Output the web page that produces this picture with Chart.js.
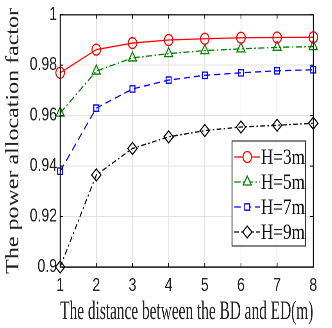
<!DOCTYPE html>
<html>
<head>
<meta charset="utf-8">
<script src="https://cdn.jsdelivr.net/npm/chart.js@4"></script>
<style>
  body { margin: 0; background: #fff; overflow: hidden; }
  /* the source figure is squeezed sideways, so draw wide and squeeze it the same way */
  #wrap { width: 425px; height: 328px; transform: scaleX(0.7812); transform-origin: 0 0; }
</style>
</head>
<body>
<div id="wrap"><canvas id="chart" width="425" height="328"></canvas></div>
<script>
const distances = ['1', '2', '3', '4', '5', '6', '7', '8'];
const h3 = [0.977, 0.9862, 0.9888, 0.9900, 0.9905, 0.9909, 0.9910, 0.9911];
const h5 = [0.961, 0.9777, 0.9829, 0.9846, 0.9858, 0.9865, 0.9871, 0.9874];
const h7 = [0.938, 0.9630, 0.9706, 0.9741, 0.9760, 0.9770, 0.9778, 0.9782];
const h9 = [0.900, 0.9365, 0.9470, 0.9516, 0.9541, 0.9555, 0.9562, 0.9570];
const seriesNames = ['H=3m', 'H=5m', 'H=7m', 'H=9m'];
const yTicks = [0.9, 0.92, 0.94, 0.96, 0.98, 1];

function series(label, data, color, dash, style, radius) {
    return {
        label: label,
        data: data,
        borderColor: color,
        borderWidth: 1.3,
        borderDash: dash,
        pointStyle: style,
        pointRadius: radius,
        pointBorderColor: color,
        pointBackgroundColor: 'rgba(255,255,255,0)',
        pointBorderWidth: 1.3,
        tension: 0,
        clip: false
    };
}

// box, inward ticks and the legend inside the plot
const matlabBox = {
    id: 'matlabBox',
    afterDraw(chart) {
        const ctx = chart.ctx;
        const a = chart.chartArea;
        const xs = chart.scales.x, ys = chart.scales.y;
        ctx.save();
        ctx.strokeStyle = '#000';
        ctx.lineWidth = 1.2;
        ctx.strokeRect(a.left, a.top, a.right - a.left, a.bottom - a.top);
        ctx.lineWidth = 1;
        yTicks.forEach(v => {
            const y = ys.getPixelForValue(v);
            ctx.beginPath();
            ctx.moveTo(a.left, y); ctx.lineTo(a.left + 4, y);
            ctx.moveTo(a.right, y); ctx.lineTo(a.right - 4, y);
            ctx.stroke();
        });
        distances.forEach((d, i) => {
            const x = xs.getPixelForValue(i);
            ctx.beginPath();
            ctx.moveTo(x, a.bottom); ctx.lineTo(x, a.bottom - 4);
            ctx.moveTo(x, a.top); ctx.lineTo(x, a.top + 4);
            ctx.stroke();
        });

        // legend
        const bx = 297, by = 141, bw = 94, bh = 105, row = 25;
        ctx.fillStyle = '#fff';
        ctx.fillRect(bx, by, bw, bh);
        ctx.strokeStyle = '#333';
        ctx.lineWidth = 1.2;
        ctx.strokeRect(bx, by, bw, bh);
        ctx.font = '22px "Liberation Serif", "Times New Roman", serif';
        ctx.textBaseline = 'middle';
        chart.data.datasets.forEach((ds, i) => {
            const y = by + 16 + i * row;
            ctx.strokeStyle = ds.borderColor;
            ctx.lineWidth = ds.borderWidth;
            ctx.setLineDash(ds.borderDash || []);
            ctx.beginPath();
            ctx.moveTo(bx + 3, y); ctx.lineTo(bx + 36, y);
            ctx.stroke();
            ctx.setLineDash([]);
            ctx.fillStyle = '#fff';
            Chart.helpers.drawPoint(ctx, {
                pointStyle: ds.pointStyle, radius: ds.pointRadius,
                borderWidth: ds.pointBorderWidth, rotation: 0
            }, bx + 19.5, y);
            ctx.fillStyle = '#111';
            ctx.fillText(ds.label, bx + 37, y + 1);
        });
        ctx.restore();
    }
};

const ctx = document.getElementById('chart').getContext('2d');
const chart = new Chart(ctx, {
    type: 'line',
    data: {
        labels: distances,
        datasets: [
            series(seriesNames[0], h3, '#ff0000', [], 'circle', 5.5),
            series(seriesNames[1], h5, '#008000', [8, 3, 2, 3], 'triangle', 6),
            series(seriesNames[2], h7, '#0000ff', [8, 5], 'rect', 4.5),
            series(seriesNames[3], h9, '#000000', [6, 3, 2, 3], 'rectRot', 6)
        ]
    },
    options: {
        responsive: false,
        animation: false,
        devicePixelRatio: 2,
        layout: { padding: { top: 8, right: 24, left: 0, bottom: 0 } },
        plugins: {
            legend: { display: false },
            tooltip: { enabled: false }
        },
        scales: {
            x: {
                offset: false,
                grid: { color: '#e3e3e3', drawTicks: false },
                border: { color: '#000', width: 1.2 },
                ticks: {
                    padding: 8,
                    color: '#222',
                    font: { family: '"Liberation Sans", Arial, sans-serif', size: 18 }
                },
                title: {
                    display: true,
                    text: 'The distance between the BD and ED(m)',
                    color: '#222',
                    padding: { top: 0, bottom: 0 },
                    font: { family: '"Liberation Serif", "Times New Roman", serif', size: 26.5 }
                },
                afterFit(s) { s.height = 61; }
            },
            y: {
                min: 0.9,
                max: 1,
                grid: { color: '#e3e3e3', drawTicks: false },
                border: { color: '#000', width: 1.2 },
                afterBuildTicks(s) { s.ticks = yTicks.map(v => ({ value: v })); },
                ticks: {
                    padding: 4,
                    color: '#222',
                    callback: v => String(v),
                    font: { family: '"Liberation Sans", Arial, sans-serif', size: 18 }
                },
                title: {
                    display: true,
                    text: 'The power allocation factor',
                    color: '#222',
                    padding: { top: 3, bottom: 0 },
                    font: { family: '"Liberation Serif", "Times New Roman", serif', size: 24 }
                },
                afterFit(s) { s.width = 77; }
            }
        }
    },
    plugins: [matlabBox]
});
</script>
</body>
</html>
